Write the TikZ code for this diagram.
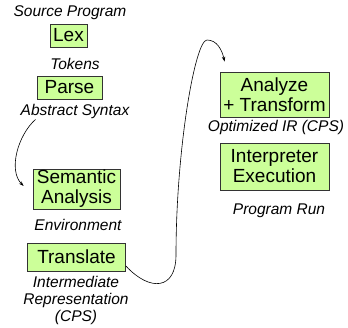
\documentclass[tikz,border=0pt]{standalone}
\usepackage{fontspec}
\setmainfont{Liberation Sans}
\usepackage{tikz}
\usetikzlibrary{arrows.meta, positioning}
\definecolor{boxfill}{HTML}{CCFF99}
\definecolor{boxline}{HTML}{333333}
\tikzset{
    phase/.style={rectangle, draw=boxline, fill=boxfill, line width=0.8pt, inner sep=0pt, align=center, font=\fontsize{19}{20}\selectfont},
    stage/.style={inner sep=0pt, align=center, font=\fontsize{15.5}{17}\selectfont\itshape},
    flow/.style={-{Stealth[length=5pt,width=3.5pt]}, line width=0.6pt, color=black}
}
\begin{document}
\begin{tikzpicture}[x=1pt, y=-1pt]
    \useasboundingbox (0,0) rectangle (348,328);
    % front end
    \node [stage] (src) at (70,13) {Source Program};
    \node [phase, minimum width=37pt, minimum height=23pt] (lex) at (68.5,35.5) {Lex};
    \node [stage] (tokens) at (75,64) {Tokens};
    \node [phase, minimum width=65pt, minimum height=23pt] (parse) at (69.5,87.5) {Parse};
    \node [stage] (ast) at (75,111) {Abstract Syntax};
    \node [phase, minimum width=87pt, minimum height=40pt] (sem) at (76.5,189) {Semantic\\Analysis};
    \node [stage] (env) at (78,225) {Environment};
    \node [phase, minimum width=98pt, minimum height=28pt] (trans) at (76.5,257) {Translate};
    \node [stage] (ir) at (76,300) {Intermediate\\Representation\\(CPS)};
    % back end
    \node [phase, minimum width=109pt, minimum height=45pt] (opt) at (274.5,94.5) {Analyze\\+ Transform};
    \node [stage] (optir) at (276,127) {Optimized IR (CPS)};
    \node [phase, minimum width=109pt, minimum height=47pt] (interp) at (274.5,166.5) {Interpreter\\Execution};
    \node [stage] (run) at (279,211) {Program Run};

    \draw [flow] ([xshift=15pt,yshift=-1pt]ast.south west) .. controls (18,135) and (8,170) .. ([xshift=-9pt,yshift=3pt]sem.west);
    \draw [flow] ([yshift=-9pt]trans.east) .. controls (150,292) and (176,290) .. (176,255)
        .. controls (176,150) and (195,40) .. (207,40)
        .. controls (217,40) and (222,50) .. ([xshift=5pt,yshift=10pt]opt.north west);
\end{tikzpicture}
\end{document}
